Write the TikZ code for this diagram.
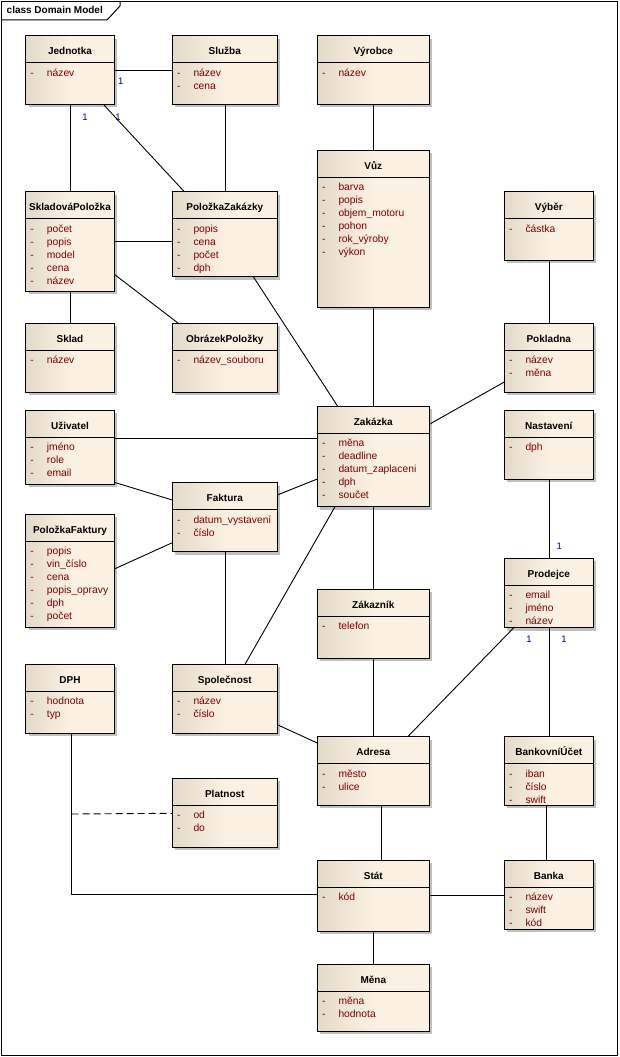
\documentclass[tikz,border=0pt]{standalone}
\usepackage{fontspec}
\setmainfont{Liberation Sans}
\usetikzlibrary{fit,calc}
\definecolor{boxL}{RGB}{228,218,202}
\definecolor{boxR}{RGB}{251,241,226}
\definecolor{attrc}{RGB}{128,0,0}
\definecolor{multc}{RGB}{0,0,128}
\definecolor{shad}{RGB}{192,192,192}
\tikzset{
  classbox/.style={draw=black, line width=1pt, inner sep=0pt, outer sep=0pt,
    left color=boxL, right color=boxR, middle color=boxR},
  titlef/.style={inner sep=0pt, font=\fontsize{10}{12}\selectfont\bfseries},
  attrf/.style={inner sep=0pt, text=attrc, font=\fontsize{10.3}{12}\selectfont},
  multf/.style={inner sep=0pt, text=multc, font=\fontsize{9.5}{11}\selectfont},
  conn/.style={line width=0.9pt, draw=black},
  assocdash/.style={line width=0.9pt, dash pattern=on 7pt off 4pt}
}
\newcommand\umlcls[7]{%
  \fill[shad] ({#2+3},{#3+3}) rectangle ({#4+3},{#5+3});
  \node[classbox, fit={(#2,#3) (#4,#5)}] (#1) {};
  \draw[line width=1pt] (#2,{#3+27}) -- (#4,{#3+27});
  \node[titlef, anchor=base] at ({(#2+#4)/2},{#3+19}) {#6};
  \foreach \a [count=\i] in {#7} {
    \node[attrf, anchor=base west] at ({#2+21},{#3+40.5+13*(\i-1)}) {\a};
    \node[attrf, anchor=base west] at ({#2+4.5},{#3+40.5+13*(\i-1)}) {-};
  }%
}
\begin{document}
\begin{tikzpicture}[x=1pt,y=-1pt]
\useasboundingbox (0,0) rectangle (619,1057);
\fill[white] (0,0) rectangle (619,1057);
% frame
\draw[line width=1pt] (1.5,1.5) rectangle (617.5,1055.5);
\draw[line width=1pt] (1.5,20) -- (107,20) -- (120,6) -- (120,1.5);
\node[titlef, anchor=base west] (frametitle) at (6.5,14) {class Domain Model};
% classes
\umlcls{jed}{25.7}{35.7}{114.3}{104.3}{Jednotka}{název}
\umlcls{slu}{172.3}{35.7}{277.3}{104.3}{Služba}{název,cena}
\umlcls{vyr}{317.3}{35.7}{429.3}{104.3}{Výrobce}{název}
\umlcls{vuz}{317.3}{150.3}{429.3}{307}{Vůz}{barva,popis,objem\_motoru,pohon,rok\_výroby,výkon}
\umlcls{vyb}{504.3}{191.7}{593.3}{260}{Výběr}{částka}
\umlcls{skp}{25.7}{191.7}{114.3}{291}{SkladováPoložka}{počet,popis,model,cena,název}
\umlcls{pzk}{172.3}{191.7}{277.3}{276.7}{PoložkaZakázky}{popis,cena,počet,dph}
\umlcls{skl}{25.7}{323.3}{114.3}{392}{Sklad}{název}
\umlcls{obr}{172.3}{323.3}{277.3}{392}{ObrázekPoložky}{název\_souboru}
\umlcls{pok}{504.3}{323.3}{593.3}{392}{Pokladna}{název,měna}
\umlcls{uzi}{25.7}{410}{114.3}{484.3}{Uživatel}{jméno,role,email}
\umlcls{zak}{317.3}{406}{429.3}{506.7}{Zakázka}{měna,deadline,datum\_zaplaceni,dph,součet}
\umlcls{nas}{504.3}{410}{593.3}{479.3}{Nastavení}{dph}
\umlcls{fak}{172.3}{482.7}{277.3}{551.7}{Faktura}{datum\_vystavení,číslo}
\umlcls{pfa}{25.7}{514.3}{114.3}{627.3}{PoložkaFaktury}{popis,vin\_číslo,cena,popis\_opravy,dph,počet}
\umlcls{pro}{504.3}{558.3}{593.3}{627.5}{Prodejce}{email,jméno,název}
\umlcls{zkz}{317.3}{589.3}{429.3}{658}{Zákazník}{telefon}
\umlcls{dph}{25.7}{664.3}{114.3}{733.3}{DPH}{hodnota,typ}
\umlcls{spo}{172.3}{664.3}{277.3}{733.3}{Společnost}{název,číslo}
\umlcls{adr}{317.3}{736.7}{429.3}{805.3}{Adresa}{město,ulice}
\umlcls{bu}{504.3}{736.7}{593.3}{805.3}{BankovníÚčet}{iban,číslo,swift}
\umlcls{pla}{172.3}{778.3}{277.3}{847.3}{Platnost}{od,do}
\umlcls{sta}{317.3}{860.3}{429.3}{931.3}{Stát}{kód}
\umlcls{ban}{504.3}{860.3}{593.3}{929.3}{Banka}{název,swift,kód}
\umlcls{men}{317.3}{964.3}{429.3}{1031}{Měna}{měna,hodnota}
% connectors
\draw[conn] (jed.east |- 0,70.7) -- (slu.west |- 0,70.7);
\draw[conn] (jed.south -| 70.7,0) -- (skp.north -| 70.7,0);
\draw[conn] (jed.south -| 103.3,0) -- (pzk.north -| 184.3,0);
\draw[conn] (slu.south -| 225.7,0) -- (pzk.north -| 225.7,0);
\draw[conn] (skp.east |- 0,241) -- (pzk.west |- 0,241);
\draw[conn] (skp.east |- 0,274.3) -- (obr.north -| 178.3,0);
\draw[conn] (skp.south -| 70.7,0) -- (skl.north -| 70.7,0);
\draw[conn] (pzk.south -| 253.3,0) -- (zak.north -| 337.5,0);
\draw[conn] (vyr.south -| 373.3,0) -- (vuz.north -| 373.3,0);
\draw[conn] (vuz.south -| 373.3,0) -- (zak.north -| 373.3,0);
\draw[conn] (vyb.south -| 549.3,0) -- (pok.north -| 549.3,0);
\draw[conn] (pok.west |- 0,382) -- (zak.east |- 0,424.3);
\draw[conn] (uzi.east |- 0,438.3) -- (zak.west |- 0,438.3);
\draw[conn] (uzi.east |- 0,482.3) -- (fak.west |- 0,500);
\draw[conn] (pfa.east |- 0,569) -- (fak.west |- 0,542.7);
\draw[conn] (fak.east |- 0,495) -- (zak.west |- 0,479);
\draw[conn] (fak.south -| 225.7,0) -- (spo.north -| 225.7,0);
\draw[conn] (spo.north -| 245,0) -- (zak.south -| 335,0);
\draw[conn] (zak.south -| 373.3,0) -- (zkz.north -| 373.3,0);
\draw[conn] (nas.south -| 549.3,0) -- (pro.north -| 549.3,0);
\draw[conn] (zkz.south -| 373.3,0) -- (adr.north -| 373.3,0);
\draw[conn] (pro.south -| 514,0) -- (adr.north -| 407.7,0);
\draw[conn] (pro.south -| 549.3,0) -- (bu.north -| 549.3,0);
\draw[conn] (spo.east |- 0,724.7) -- (adr.west |- 0,743);
\draw[conn] (adr.south -| 381.7,0) -- (sta.north -| 381.7,0);
\draw[conn] (bu.south -| 546.7,0) -- (ban.north -| 546.7,0);
\draw[conn] (sta.east |- 0,895.3) -- (ban.west |- 0,895.3);
\draw[conn] (sta.south -| 373.3,0) -- (men.north -| 373.3,0);
\draw[conn] (dph.south -| 71.7,0) |- (sta.west |- 0,894);
\coordinate (dj) at (71.7,814);
\draw[assocdash] (dj) -- (pla.west |- 0,813.3);
% multiplicities
\node[multf] (m1) at (120.7,81.7) {1};
\node[multf] (m2) at (85,117) {1};
\node[multf] (m3) at (118,117) {1};
\node[multf] (m4) at (559.3,546.7) {1};
\node[multf] (m5) at (529,639) {1};
\node[multf] (m6) at (564,639) {1};
\end{tikzpicture}
\end{document}
